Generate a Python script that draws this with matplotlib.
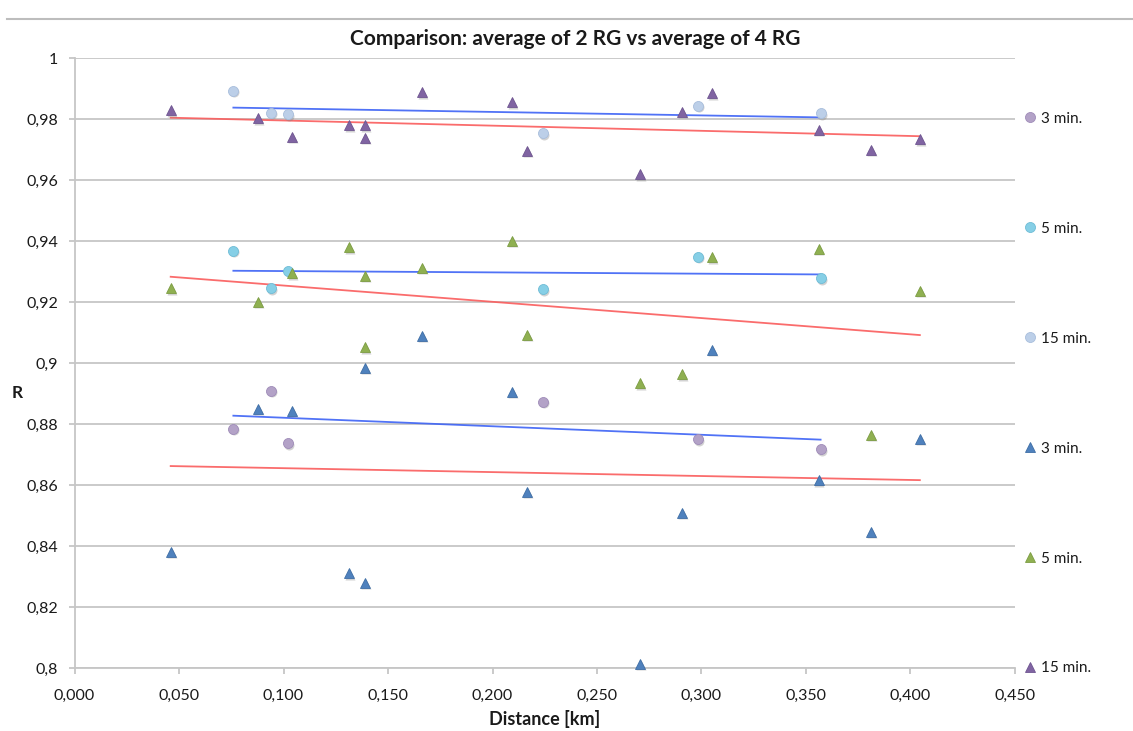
import numpy as np
import matplotlib.pyplot as plt
import matplotlib.transforms as mtransforms
from matplotlib.lines import Line2D
from matplotlib.ticker import FuncFormatter, MultipleLocator

plt.rcParams['font.family'] = ['Lato', 'DejaVu Sans']

# distances [km]
dist_tri = [0.046, 0.088, 0.104, 0.1315, 0.139, 0.139, 0.1665, 0.2095, 0.2165,
            0.2705, 0.2905, 0.305, 0.356, 0.381, 0.4045]
dist_circ = [0.076, 0.094, 0.1023, 0.224, 0.2985, 0.357]

# R values, average of 4 RG (triangles)
r_tri_3 = [0.8382, 0.8851, 0.8845, 0.8311, 0.8281, 0.8985, 0.9091, 0.8907, 0.8579,
           0.8014, 0.851, 0.9044, 0.8617, 0.8447, 0.8753]
r_tri_5 = [0.9246, 0.9201, 0.9295, 0.938, 0.9286, 0.9052, 0.9313, 0.9402, 0.9094,
           0.8934, 0.8964, 0.9348, 0.9376, 0.8765, 0.9237]
r_tri_15 = [0.983, 0.9803, 0.9743, 0.9781, 0.978, 0.974, 0.9888, 0.9856, 0.9697,
            0.962, 0.9825, 0.9885, 0.9765, 0.970, 0.9734]

# R values, average of 2 RG (circles)
r_circ_3 = [0.8785, 0.8909, 0.8738, 0.8874, 0.8751, 0.8718]
r_circ_5 = [0.9369, 0.9246, 0.9304, 0.9243, 0.9350, 0.9279]
r_circ_15 = [0.9894, 0.9822, 0.9817, 0.9754, 0.9844, 0.982]

labels = ['3 min.', '5 min.', '15 min.']

fig = plt.figure(figsize=(11.33, 7.31), dpi=100)
ax = fig.add_axes([0.0658, 0.0858, 0.8300, 0.8344])

grid_col = '#c6c6c6'
txt_col = '#1a1a1a'

shadow = mtransforms.offset_copy(ax.transData, fig=fig, x=0.7, y=-1.0, units='points')

def draw(x, y, marker, color, edge, ms, label):
    ax.plot(x, y, linestyle='none', marker=marker, ms=ms, color='#808080',
            alpha=0.35, mec='none', transform=shadow, clip_on=False, zorder=3)
    h, = ax.plot(x, y, linestyle='none', marker=marker, ms=ms, color=color,
                 mec=edge, mew=0.6, clip_on=False, zorder=4, label=label)
    return h

def trend(x, y, color):
    k, b = np.polyfit(x, y, 1)
    xs = np.array([min(x), max(x)])
    ax.plot(xs, k * xs + b, color=color, lw=1.3, zorder=2, alpha=0.9)

handles = []
handles.append(draw(dist_circ, r_circ_3, 'o', '#b3a2c7', '#9f8cb8', 7.2, labels[0]))
handles.append(draw(dist_circ, r_circ_5, 'o', '#86cfe6', '#6fbcd6', 7.2, labels[1]))
handles.append(draw(dist_circ, r_circ_15, 'o', '#bccfe8', '#a8bedc', 7.2, labels[2]))
handles.append(draw(dist_tri, r_tri_3, '^', '#4f81bd', '#3f6ea6', 6.8, labels[0]))
handles.append(draw(dist_tri, r_tri_5, '^', '#8fb051', '#7c9c43', 6.8, labels[1]))
handles.append(draw(dist_tri, r_tri_15, '^', '#8064a2', '#6e5590', 6.8, labels[2]))

for r in (r_circ_3, r_circ_5, r_circ_15):
    trend(dist_circ, r, '#3d63f5')
for r in (r_tri_3, r_tri_5, r_tri_15):
    trend(dist_tri, r, '#fa5c5c')

ax.set_xlim(0, 0.45)
ax.set_ylim(0.8, 1.0)
ax.xaxis.set_major_locator(MultipleLocator(0.05))
ax.yaxis.set_major_locator(MultipleLocator(0.02))
ax.xaxis.set_major_formatter(FuncFormatter(lambda v, p: f'{v:.3f}'.replace('.', ',')))
ax.yaxis.set_major_formatter(FuncFormatter(lambda v, p: f'{round(v, 2):g}'.replace('.', ',')))

ax.grid(axis='y', color=grid_col, lw=1.3, zorder=0)
ax.set_axisbelow(True)
for s in ('top', 'right'):
    ax.spines[s].set_visible(False)
for s in ('left', 'bottom'):
    ax.spines[s].set_color(grid_col)
    ax.spines[s].set_linewidth(1.3)
ax.tick_params(axis='both', colors=grid_col, labelcolor=txt_col, labelsize=11.5,
               length=4, width=1.3)
ax.tick_params(axis='x', pad=11)
ax.tick_params(axis='y', pad=8)

ax.set_xlabel('Distance [km]', fontsize=13, fontweight='bold', color=txt_col, labelpad=5)
ax.set_ylabel('R', fontsize=12.5, fontweight='bold', color=txt_col, rotation=0,
              ha='center', va='center')
ax.yaxis.set_label_coords(-0.061, 0.451)

fig.text(0.5077, 0.946, 'Comparison: average of 2 RG vs average of 4 RG',
         ha='center', va='center', fontsize=15, fontweight='bold', color=txt_col)

fig.legend(handles=handles, loc='upper left', bbox_to_anchor=(0.8987, 0.8555),
           frameon=False, labelspacing=6.28, handlelength=0.8, handletextpad=0.3,
           borderaxespad=0, fontsize=11, labelcolor=txt_col)

fig.add_artist(Line2D([0.006, 1.0], [1 - 19 / 731, 1 - 19 / 731], color='#bdbdbd', lw=1.5))

fig.savefig('out.png', dpi=100)
